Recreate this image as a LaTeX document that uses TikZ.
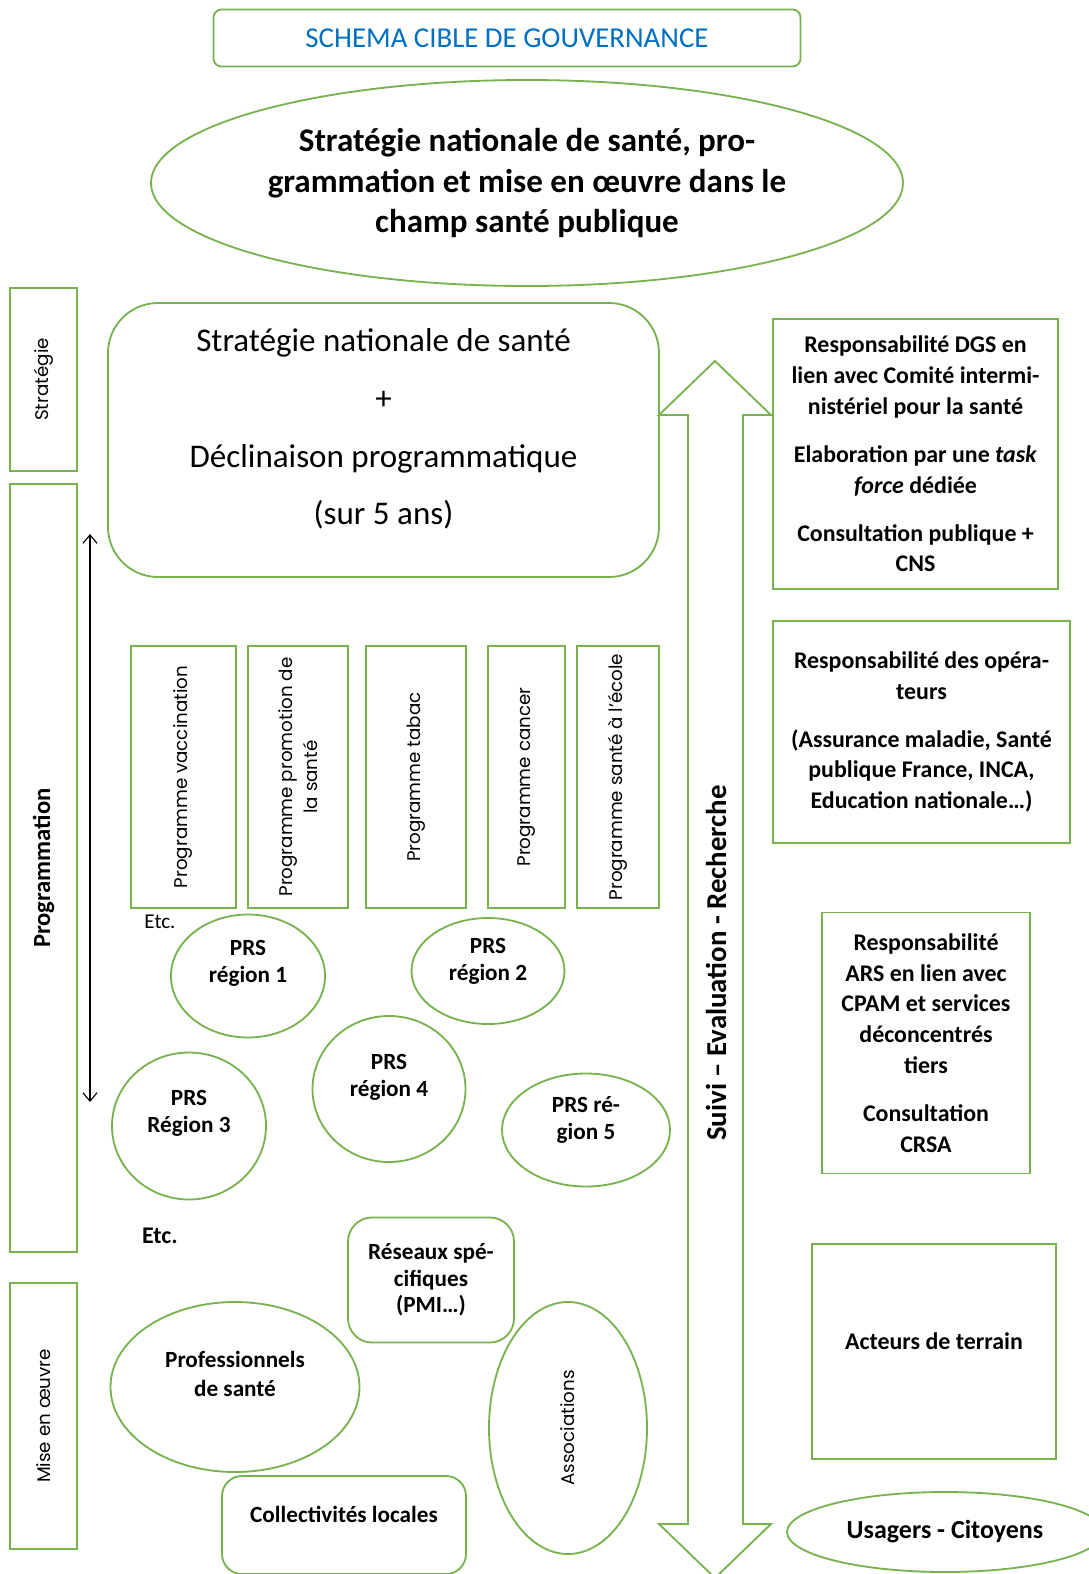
\documentclass[tikz,border=0pt]{standalone}
\usepackage{fontspec}
\setmainfont{Carlito}
\newfontfamily\geofont{Poppins}
\usepackage{tikz}
\usetikzlibrary{shapes.geometric}
\usetikzlibrary{arrows.meta}
\definecolor{vertcadre}{RGB}{118,178,78}
\definecolor{bleutitre}{RGB}{0,112,192}
\newcommand{\unitpx}{0.025cm}

\tikzset{
  cadre/.style={draw=vertcadre, line width=1.3pt},
  boite/.style 2 args={cadre, rectangle, minimum width=#1*\unitpx, minimum height=#2*\unitpx, inner sep=0pt, align=center},
  bulle/.style 2 args={cadre, ellipse, minimum width=#1*\unitpx, minimum height=#2*\unitpx, inner sep=0pt, align=center},
  geo/.style={font=\geofont\fontsize{13}{18}\selectfont, align=center},
  resp/.style={font=\fontsize{17}{22}\selectfont\bfseries, align=center},
  lbl/.style={font=\fontsize{16.5}{19}\selectfont\bfseries, align=center, inner sep=0pt},
}

\begin{document}
\begin{tikzpicture}[x=\unitpx, y=-\unitpx]
\useasboundingbox (0,0) rectangle (1089,1574);

\node[boite={587}{57}, rounded corners=0.2cm, text=bleutitre, font=\fontsize{20.5}{24}\selectfont] (titre) at (507,38) {SCHEMA CIBLE DE GOUVERNANCE};
\node[bulle={752}{206}, font=\fontsize{23.5}{29}\selectfont\bfseries] (snsp) at (527,183) {Stratégie nationale de santé, pro-\\grammation et mise en œuvre dans le\\champ santé publique};

\node[boite={183}{67}, rotate=90, geo] (strat) at (43.5,379.5) {Stratégie};
\node[boite={768}{67}, rotate=90, font=\fontsize{17.5}{20}\selectfont\bfseries] (progr) at (43.5,868) {Programmation};
\node[boite={266}{67}, rotate=90, geo] (miseo) at (43.5,1416) {Mise en œuvre};

\coordinate (haut) at (90,534);
\coordinate (bas) at (90,1102);
\draw[{Straight Barb[length=6pt,width=10pt]}-{Straight Barb[length=6pt,width=10pt]}, line width=0.8pt] (haut) -- (bas);

\node[boite={551}{274}, rounded corners=1.25cm] (sns) at (383.5,440) {};
\node[font=\fontsize{23.5}{41}\selectfont, align=center] (sns-t) at (383.5,429) {Stratégie nationale de santé\\+\\Déclinaison programmatique\\(sur 5 ans)};

\foreach \x/\w/\txt [count=\i] in {183.5/105/{Programme vaccination},
    298/100/{Programme promotion de\\la santé}, 416/100/{Programme tabac},
    526.5/77/{Programme cancer}, 618/82/{Programme santé à l’école}}
  \node[boite={262}{\w}, rotate=90, geo] (prog\i) at (\x,777) {\txt};

\node[font=\fontsize{15}{17}\selectfont] (etc1) at (160,922) {Etc.};

\foreach \x/\y/\w/\h/\ty/\txt [count=\i] in {248/976/154/123/963/{PRS\\région 1},
    488/971/153/106/961/{PRS\\région 2}, 189/1126/154/147/1113/{PRS\\Région 3},
    389/1089/153/146/1077/{PRS\\région 4}, 586/1130/168/113/1120/{PRS ré-\\gion 5}}
  {
  \node[bulle={\w}{\h}] (prs\i) at (\x,\y) {};
  \node[lbl] (prs\i-t) at (\x,\ty) {\txt};
  }

\node[font=\fontsize{17}{19}\selectfont\bfseries] (etc2) at (160,1236) {Etc.};

\node[boite={166}{125}, rounded corners=0.6cm, lbl] (reseaux) at (431,1280) {Réseaux spé-\\cifiques\\(PMI…)};
\node[bulle={249}{170}] (pros) at (235,1387) {};
\node[lbl, font=\fontsize{16.5}{20.5}\selectfont\bfseries] (pros-t) at (235,1374) {Professionnels\\de santé};
\node[bulle={252}{158}, rotate=90, geo] (assoc) at (568,1428) {Associations};
\node[boite={244}{98}, rounded corners=0.5cm] (collec) at (344,1525) {};
\node[lbl] (collec-t) at (344,1514) {Collectivités locales};

\draw[cadre] (688,1524) -- (688,415) -- (659,415) -- (715,361) -- (771,415) -- (743,415)
  -- (743,1524) -- (771,1524) -- (715,1578) -- (659,1524) -- cycle;
\node[rotate=90, font=\fontsize{20.5}{24}\selectfont\bfseries] (suivi) at (716,963) {Suivi – Evaluation - Recherche};

\node[boite={285}{270}, resp] (dgs) at (915.5,454) {Responsabilité DGS en\\lien avec Comité intermi-\\nistériel pour la santé\\[12pt]Elaboration par une \textit{task}\\\textit{force} dédiée\\[12pt]Consultation publique +\\CNS};
\node[boite={297}{222}, resp] (oper) at (921.5,732) {Responsabilité des opéra-\\teurs\\[12pt](Assurance maladie, Santé\\publique France, INCA,\\Education nationale…)};
\node[boite={208}{261}, resp] (ars) at (926,1043) {Responsabilité\\ARS en lien avec\\CPAM et services\\déconcentrés\\tiers\\[12pt]Consultation\\CRSA};
\node[boite={244}{215}] (acteurs) at (934,1351.5) {};
\node[lbl, font=\fontsize{17}{19}\selectfont\bfseries] (acteurs-t) at (934,1341) {Acteurs de terrain};
\node[bulle={316}{80}, font=\fontsize{18.5}{21}\selectfont\bfseries] (usagers) at (945,1532) {Usagers - Citoyens};
\end{tikzpicture}
\end{document}
